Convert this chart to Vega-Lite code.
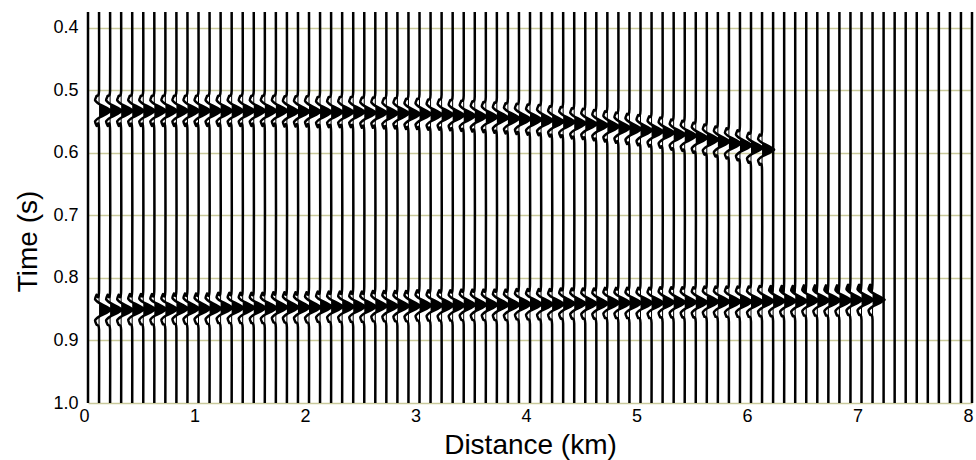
{
"$schema":"https://vega.github.io/schema/vega-lite/v6.json",
"width":884,"height":391,
"autosize":{"type":"none"},
"padding":{"left":88,"top":12,"right":4,"bottom":57},
"background":"white",
"config":{"view":{"stroke":null},"font":"Liberation Sans"},
"data":{"values":[
{"k":0,"t":0.375,"x":0},{"k":0,"t":1,"x":0},
{"k":0.1,"t":0.375,"x":0.1},{"k":0.1,"t":0.501,"x":0.1},{"k":0.1,"t":0.509,"x":0.078},{"k":0.1,"t":0.516,"x":0.064},{"k":0.1,"t":0.522,"x":0.1},{"k":0.1,"t":0.533,"x":0.21},{"k":0.1,"t":0.544,"x":0.1},{"k":0.1,"t":0.550,"x":0.064},{"k":0.1,"t":0.557,"x":0.078},{"k":0.1,"t":0.565,"x":0.1},{"k":0.1,"t":0.819,"x":0.1},{"k":0.1,"t":0.827,"x":0.078},{"k":0.1,"t":0.834,"x":0.064},{"k":0.1,"t":0.840,"x":0.1},{"k":0.1,"t":0.851,"x":0.21},{"k":0.1,"t":0.862,"x":0.1},{"k":0.1,"t":0.868,"x":0.064},{"k":0.1,"t":0.875,"x":0.078},{"k":0.1,"t":0.883,"x":0.1},{"k":0.1,"t":1,"x":0.1},
{"k":0.2,"t":0.375,"x":0.2},{"k":0.2,"t":0.501,"x":0.2},{"k":0.2,"t":0.509,"x":0.178},{"k":0.2,"t":0.516,"x":0.164},{"k":0.2,"t":0.522,"x":0.2},{"k":0.2,"t":0.533,"x":0.31},{"k":0.2,"t":0.544,"x":0.2},{"k":0.2,"t":0.550,"x":0.164},{"k":0.2,"t":0.557,"x":0.178},{"k":0.2,"t":0.565,"x":0.2},{"k":0.2,"t":0.819,"x":0.2},{"k":0.2,"t":0.827,"x":0.178},{"k":0.2,"t":0.834,"x":0.164},{"k":0.2,"t":0.840,"x":0.2},{"k":0.2,"t":0.851,"x":0.31},{"k":0.2,"t":0.862,"x":0.2},{"k":0.2,"t":0.868,"x":0.164},{"k":0.2,"t":0.875,"x":0.178},{"k":0.2,"t":0.883,"x":0.2},{"k":0.2,"t":1,"x":0.2},
{"k":0.3,"t":0.375,"x":0.3},{"k":0.3,"t":0.501,"x":0.3},{"k":0.3,"t":0.509,"x":0.278},{"k":0.3,"t":0.516,"x":0.264},{"k":0.3,"t":0.522,"x":0.3},{"k":0.3,"t":0.533,"x":0.41},{"k":0.3,"t":0.544,"x":0.3},{"k":0.3,"t":0.550,"x":0.264},{"k":0.3,"t":0.557,"x":0.278},{"k":0.3,"t":0.565,"x":0.3},{"k":0.3,"t":0.819,"x":0.3},{"k":0.3,"t":0.827,"x":0.278},{"k":0.3,"t":0.834,"x":0.264},{"k":0.3,"t":0.840,"x":0.3},{"k":0.3,"t":0.851,"x":0.41},{"k":0.3,"t":0.862,"x":0.3},{"k":0.3,"t":0.868,"x":0.264},{"k":0.3,"t":0.875,"x":0.278},{"k":0.3,"t":0.883,"x":0.3},{"k":0.3,"t":1,"x":0.3},
{"k":0.4,"t":0.375,"x":0.4},{"k":0.4,"t":0.501,"x":0.4},{"k":0.4,"t":0.509,"x":0.378},{"k":0.4,"t":0.516,"x":0.364},{"k":0.4,"t":0.522,"x":0.4},{"k":0.4,"t":0.533,"x":0.51},{"k":0.4,"t":0.544,"x":0.4},{"k":0.4,"t":0.550,"x":0.364},{"k":0.4,"t":0.557,"x":0.378},{"k":0.4,"t":0.565,"x":0.4},{"k":0.4,"t":0.818,"x":0.4},{"k":0.4,"t":0.826,"x":0.378},{"k":0.4,"t":0.833,"x":0.364},{"k":0.4,"t":0.839,"x":0.4},{"k":0.4,"t":0.850,"x":0.51},{"k":0.4,"t":0.861,"x":0.4},{"k":0.4,"t":0.867,"x":0.364},{"k":0.4,"t":0.874,"x":0.378},{"k":0.4,"t":0.882,"x":0.4},{"k":0.4,"t":1,"x":0.4},
{"k":0.5,"t":0.375,"x":0.5},{"k":0.5,"t":0.501,"x":0.5},{"k":0.5,"t":0.509,"x":0.478},{"k":0.5,"t":0.516,"x":0.464},{"k":0.5,"t":0.522,"x":0.5},{"k":0.5,"t":0.533,"x":0.61},{"k":0.5,"t":0.544,"x":0.5},{"k":0.5,"t":0.550,"x":0.464},{"k":0.5,"t":0.557,"x":0.478},{"k":0.5,"t":0.565,"x":0.5},{"k":0.5,"t":0.818,"x":0.5},{"k":0.5,"t":0.826,"x":0.478},{"k":0.5,"t":0.833,"x":0.464},{"k":0.5,"t":0.839,"x":0.5},{"k":0.5,"t":0.850,"x":0.61},{"k":0.5,"t":0.861,"x":0.5},{"k":0.5,"t":0.867,"x":0.464},{"k":0.5,"t":0.874,"x":0.478},{"k":0.5,"t":0.882,"x":0.5},{"k":0.5,"t":1,"x":0.5},
{"k":0.6,"t":0.375,"x":0.6},{"k":0.6,"t":0.501,"x":0.6},{"k":0.6,"t":0.509,"x":0.578},{"k":0.6,"t":0.516,"x":0.564},{"k":0.6,"t":0.522,"x":0.6},{"k":0.6,"t":0.533,"x":0.71},{"k":0.6,"t":0.544,"x":0.6},{"k":0.6,"t":0.550,"x":0.564},{"k":0.6,"t":0.557,"x":0.578},{"k":0.6,"t":0.565,"x":0.6},{"k":0.6,"t":0.818,"x":0.6},{"k":0.6,"t":0.826,"x":0.578},{"k":0.6,"t":0.833,"x":0.564},{"k":0.6,"t":0.839,"x":0.6},{"k":0.6,"t":0.850,"x":0.71},{"k":0.6,"t":0.861,"x":0.6},{"k":0.6,"t":0.867,"x":0.564},{"k":0.6,"t":0.874,"x":0.578},{"k":0.6,"t":0.882,"x":0.6},{"k":0.6,"t":1,"x":0.6},
{"k":0.7,"t":0.375,"x":0.7},{"k":0.7,"t":0.501,"x":0.7},{"k":0.7,"t":0.509,"x":0.678},{"k":0.7,"t":0.516,"x":0.664},{"k":0.7,"t":0.522,"x":0.7},{"k":0.7,"t":0.533,"x":0.81},{"k":0.7,"t":0.544,"x":0.7},{"k":0.7,"t":0.550,"x":0.664},{"k":0.7,"t":0.557,"x":0.678},{"k":0.7,"t":0.565,"x":0.7},{"k":0.7,"t":0.818,"x":0.7},{"k":0.7,"t":0.826,"x":0.678},{"k":0.7,"t":0.833,"x":0.664},{"k":0.7,"t":0.839,"x":0.7},{"k":0.7,"t":0.850,"x":0.81},{"k":0.7,"t":0.861,"x":0.7},{"k":0.7,"t":0.867,"x":0.664},{"k":0.7,"t":0.874,"x":0.678},{"k":0.7,"t":0.882,"x":0.7},{"k":0.7,"t":1,"x":0.7},
{"k":0.8,"t":0.375,"x":0.8},{"k":0.8,"t":0.501,"x":0.8},{"k":0.8,"t":0.509,"x":0.778},{"k":0.8,"t":0.516,"x":0.764},{"k":0.8,"t":0.522,"x":0.8},{"k":0.8,"t":0.533,"x":0.91},{"k":0.8,"t":0.544,"x":0.8},{"k":0.8,"t":0.550,"x":0.764},{"k":0.8,"t":0.557,"x":0.778},{"k":0.8,"t":0.565,"x":0.8},{"k":0.8,"t":0.817,"x":0.8},{"k":0.8,"t":0.825,"x":0.778},{"k":0.8,"t":0.832,"x":0.764},{"k":0.8,"t":0.838,"x":0.8},{"k":0.8,"t":0.849,"x":0.91},{"k":0.8,"t":0.860,"x":0.8},{"k":0.8,"t":0.866,"x":0.764},{"k":0.8,"t":0.873,"x":0.778},{"k":0.8,"t":0.881,"x":0.8},{"k":0.8,"t":1,"x":0.8},
{"k":0.9,"t":0.375,"x":0.9},{"k":0.9,"t":0.501,"x":0.9},{"k":0.9,"t":0.509,"x":0.878},{"k":0.9,"t":0.516,"x":0.864},{"k":0.9,"t":0.522,"x":0.9},{"k":0.9,"t":0.533,"x":1.01},{"k":0.9,"t":0.544,"x":0.9},{"k":0.9,"t":0.550,"x":0.864},{"k":0.9,"t":0.557,"x":0.878},{"k":0.9,"t":0.565,"x":0.9},{"k":0.9,"t":0.817,"x":0.9},{"k":0.9,"t":0.825,"x":0.878},{"k":0.9,"t":0.832,"x":0.864},{"k":0.9,"t":0.838,"x":0.9},{"k":0.9,"t":0.849,"x":1.01},{"k":0.9,"t":0.860,"x":0.9},{"k":0.9,"t":0.866,"x":0.864},{"k":0.9,"t":0.873,"x":0.878},{"k":0.9,"t":0.881,"x":0.9},{"k":0.9,"t":1,"x":0.9},
{"k":1.0,"t":0.375,"x":1.0},{"k":1.0,"t":0.501,"x":1.0},{"k":1.0,"t":0.509,"x":0.978},{"k":1.0,"t":0.516,"x":0.964},{"k":1.0,"t":0.522,"x":1.0},{"k":1.0,"t":0.533,"x":1.11},{"k":1.0,"t":0.544,"x":1.0},{"k":1.0,"t":0.550,"x":0.964},{"k":1.0,"t":0.557,"x":0.978},{"k":1.0,"t":0.565,"x":1.0},{"k":1.0,"t":0.817,"x":1.0},{"k":1.0,"t":0.825,"x":0.978},{"k":1.0,"t":0.832,"x":0.964},{"k":1.0,"t":0.838,"x":1.0},{"k":1.0,"t":0.849,"x":1.11},{"k":1.0,"t":0.860,"x":1.0},{"k":1.0,"t":0.866,"x":0.964},{"k":1.0,"t":0.873,"x":0.978},{"k":1.0,"t":0.881,"x":1.0},{"k":1.0,"t":1,"x":1.0},
{"k":1.1,"t":0.375,"x":1.1},{"k":1.1,"t":0.501,"x":1.1},{"k":1.1,"t":0.509,"x":1.078},{"k":1.1,"t":0.516,"x":1.064},{"k":1.1,"t":0.522,"x":1.1},{"k":1.1,"t":0.533,"x":1.21},{"k":1.1,"t":0.544,"x":1.1},{"k":1.1,"t":0.550,"x":1.064},{"k":1.1,"t":0.557,"x":1.078},{"k":1.1,"t":0.565,"x":1.1},{"k":1.1,"t":0.817,"x":1.1},{"k":1.1,"t":0.825,"x":1.078},{"k":1.1,"t":0.832,"x":1.064},{"k":1.1,"t":0.838,"x":1.1},{"k":1.1,"t":0.849,"x":1.21},{"k":1.1,"t":0.860,"x":1.1},{"k":1.1,"t":0.866,"x":1.064},{"k":1.1,"t":0.873,"x":1.078},{"k":1.1,"t":0.881,"x":1.1},{"k":1.1,"t":1,"x":1.1},
{"k":1.2,"t":0.375,"x":1.2},{"k":1.2,"t":0.501,"x":1.2},{"k":1.2,"t":0.509,"x":1.178},{"k":1.2,"t":0.516,"x":1.164},{"k":1.2,"t":0.522,"x":1.2},{"k":1.2,"t":0.533,"x":1.31},{"k":1.2,"t":0.544,"x":1.2},{"k":1.2,"t":0.550,"x":1.164},{"k":1.2,"t":0.557,"x":1.178},{"k":1.2,"t":0.565,"x":1.2},{"k":1.2,"t":0.816,"x":1.2},{"k":1.2,"t":0.824,"x":1.178},{"k":1.2,"t":0.831,"x":1.164},{"k":1.2,"t":0.837,"x":1.2},{"k":1.2,"t":0.848,"x":1.31},{"k":1.2,"t":0.859,"x":1.2},{"k":1.2,"t":0.865,"x":1.164},{"k":1.2,"t":0.872,"x":1.178},{"k":1.2,"t":0.880,"x":1.2},{"k":1.2,"t":1,"x":1.2},
{"k":1.3,"t":0.375,"x":1.3},{"k":1.3,"t":0.501,"x":1.3},{"k":1.3,"t":0.509,"x":1.278},{"k":1.3,"t":0.516,"x":1.264},{"k":1.3,"t":0.522,"x":1.3},{"k":1.3,"t":0.533,"x":1.41},{"k":1.3,"t":0.544,"x":1.3},{"k":1.3,"t":0.550,"x":1.264},{"k":1.3,"t":0.557,"x":1.278},{"k":1.3,"t":0.565,"x":1.3},{"k":1.3,"t":0.816,"x":1.3},{"k":1.3,"t":0.824,"x":1.278},{"k":1.3,"t":0.831,"x":1.264},{"k":1.3,"t":0.837,"x":1.3},{"k":1.3,"t":0.848,"x":1.41},{"k":1.3,"t":0.859,"x":1.3},{"k":1.3,"t":0.865,"x":1.264},{"k":1.3,"t":0.872,"x":1.278},{"k":1.3,"t":0.880,"x":1.3},{"k":1.3,"t":1,"x":1.3},
{"k":1.4,"t":0.375,"x":1.4},{"k":1.4,"t":0.501,"x":1.4},{"k":1.4,"t":0.509,"x":1.378},{"k":1.4,"t":0.516,"x":1.364},{"k":1.4,"t":0.522,"x":1.4},{"k":1.4,"t":0.533,"x":1.51},{"k":1.4,"t":0.544,"x":1.4},{"k":1.4,"t":0.550,"x":1.364},{"k":1.4,"t":0.557,"x":1.378},{"k":1.4,"t":0.565,"x":1.4},{"k":1.4,"t":0.816,"x":1.4},{"k":1.4,"t":0.824,"x":1.378},{"k":1.4,"t":0.831,"x":1.364},{"k":1.4,"t":0.837,"x":1.4},{"k":1.4,"t":0.848,"x":1.51},{"k":1.4,"t":0.859,"x":1.4},{"k":1.4,"t":0.865,"x":1.364},{"k":1.4,"t":0.872,"x":1.378},{"k":1.4,"t":0.880,"x":1.4},{"k":1.4,"t":1,"x":1.4},
{"k":1.5,"t":0.375,"x":1.5},{"k":1.5,"t":0.501,"x":1.5},{"k":1.5,"t":0.509,"x":1.478},{"k":1.5,"t":0.516,"x":1.464},{"k":1.5,"t":0.522,"x":1.5},{"k":1.5,"t":0.533,"x":1.61},{"k":1.5,"t":0.544,"x":1.5},{"k":1.5,"t":0.550,"x":1.464},{"k":1.5,"t":0.557,"x":1.478},{"k":1.5,"t":0.565,"x":1.5},{"k":1.5,"t":0.816,"x":1.5},{"k":1.5,"t":0.824,"x":1.478},{"k":1.5,"t":0.831,"x":1.464},{"k":1.5,"t":0.837,"x":1.5},{"k":1.5,"t":0.848,"x":1.61},{"k":1.5,"t":0.859,"x":1.5},{"k":1.5,"t":0.865,"x":1.464},{"k":1.5,"t":0.872,"x":1.478},{"k":1.5,"t":0.880,"x":1.5},{"k":1.5,"t":1,"x":1.5},
{"k":1.6,"t":0.375,"x":1.6},{"k":1.6,"t":0.501,"x":1.6},{"k":1.6,"t":0.509,"x":1.578},{"k":1.6,"t":0.516,"x":1.564},{"k":1.6,"t":0.522,"x":1.6},{"k":1.6,"t":0.533,"x":1.71},{"k":1.6,"t":0.544,"x":1.6},{"k":1.6,"t":0.550,"x":1.564},{"k":1.6,"t":0.557,"x":1.578},{"k":1.6,"t":0.565,"x":1.6},{"k":1.6,"t":0.816,"x":1.6},{"k":1.6,"t":0.824,"x":1.578},{"k":1.6,"t":0.831,"x":1.564},{"k":1.6,"t":0.837,"x":1.6},{"k":1.6,"t":0.848,"x":1.71},{"k":1.6,"t":0.859,"x":1.6},{"k":1.6,"t":0.865,"x":1.564},{"k":1.6,"t":0.872,"x":1.578},{"k":1.6,"t":0.880,"x":1.6},{"k":1.6,"t":1,"x":1.6},
{"k":1.7,"t":0.375,"x":1.7},{"k":1.7,"t":0.501,"x":1.7},{"k":1.7,"t":0.509,"x":1.678},{"k":1.7,"t":0.516,"x":1.664},{"k":1.7,"t":0.522,"x":1.7},{"k":1.7,"t":0.533,"x":1.81},{"k":1.7,"t":0.544,"x":1.7},{"k":1.7,"t":0.550,"x":1.664},{"k":1.7,"t":0.557,"x":1.678},{"k":1.7,"t":0.565,"x":1.7},{"k":1.7,"t":0.815,"x":1.7},{"k":1.7,"t":0.823,"x":1.678},{"k":1.7,"t":0.830,"x":1.664},{"k":1.7,"t":0.836,"x":1.7},{"k":1.7,"t":0.847,"x":1.81},{"k":1.7,"t":0.858,"x":1.7},{"k":1.7,"t":0.864,"x":1.664},{"k":1.7,"t":0.871,"x":1.678},{"k":1.7,"t":0.879,"x":1.7},{"k":1.7,"t":1,"x":1.7},
{"k":1.8,"t":0.375,"x":1.8},{"k":1.8,"t":0.502,"x":1.8},{"k":1.8,"t":0.510,"x":1.778},{"k":1.8,"t":0.517,"x":1.764},{"k":1.8,"t":0.523,"x":1.8},{"k":1.8,"t":0.534,"x":1.91},{"k":1.8,"t":0.545,"x":1.8},{"k":1.8,"t":0.551,"x":1.764},{"k":1.8,"t":0.558,"x":1.778},{"k":1.8,"t":0.566,"x":1.8},{"k":1.8,"t":0.815,"x":1.8},{"k":1.8,"t":0.823,"x":1.778},{"k":1.8,"t":0.830,"x":1.764},{"k":1.8,"t":0.836,"x":1.8},{"k":1.8,"t":0.847,"x":1.91},{"k":1.8,"t":0.858,"x":1.8},{"k":1.8,"t":0.864,"x":1.764},{"k":1.8,"t":0.871,"x":1.778},{"k":1.8,"t":0.879,"x":1.8},{"k":1.8,"t":1,"x":1.8},
{"k":1.9,"t":0.375,"x":1.9},{"k":1.9,"t":0.502,"x":1.9},{"k":1.9,"t":0.510,"x":1.878},{"k":1.9,"t":0.517,"x":1.864},{"k":1.9,"t":0.523,"x":1.9},{"k":1.9,"t":0.534,"x":2.01},{"k":1.9,"t":0.545,"x":1.9},{"k":1.9,"t":0.551,"x":1.864},{"k":1.9,"t":0.558,"x":1.878},{"k":1.9,"t":0.566,"x":1.9},{"k":1.9,"t":0.815,"x":1.9},{"k":1.9,"t":0.823,"x":1.878},{"k":1.9,"t":0.830,"x":1.864},{"k":1.9,"t":0.836,"x":1.9},{"k":1.9,"t":0.847,"x":2.01},{"k":1.9,"t":0.858,"x":1.9},{"k":1.9,"t":0.864,"x":1.864},{"k":1.9,"t":0.871,"x":1.878},{"k":1.9,"t":0.879,"x":1.9},{"k":1.9,"t":1,"x":1.9},
{"k":2.0,"t":0.375,"x":2.0},{"k":2.0,"t":0.502,"x":2.0},{"k":2.0,"t":0.510,"x":1.978},{"k":2.0,"t":0.517,"x":1.964},{"k":2.0,"t":0.523,"x":2.0},{"k":2.0,"t":0.534,"x":2.11},{"k":2.0,"t":0.545,"x":2.0},{"k":2.0,"t":0.551,"x":1.964},{"k":2.0,"t":0.558,"x":1.978},{"k":2.0,"t":0.566,"x":2.0},{"k":2.0,"t":0.815,"x":2.0},{"k":2.0,"t":0.823,"x":1.978},{"k":2.0,"t":0.830,"x":1.964},{"k":2.0,"t":0.836,"x":2.0},{"k":2.0,"t":0.847,"x":2.11},{"k":2.0,"t":0.858,"x":2.0},{"k":2.0,"t":0.864,"x":1.964},{"k":2.0,"t":0.871,"x":1.978},{"k":2.0,"t":0.879,"x":2.0},{"k":2.0,"t":1,"x":2.0},
{"k":2.1,"t":0.375,"x":2.1},{"k":2.1,"t":0.503,"x":2.1},{"k":2.1,"t":0.511,"x":2.078},{"k":2.1,"t":0.518,"x":2.064},{"k":2.1,"t":0.524,"x":2.1},{"k":2.1,"t":0.535,"x":2.21},{"k":2.1,"t":0.546,"x":2.1},{"k":2.1,"t":0.552,"x":2.064},{"k":2.1,"t":0.559,"x":2.078},{"k":2.1,"t":0.567,"x":2.1},{"k":2.1,"t":0.814,"x":2.1},{"k":2.1,"t":0.822,"x":2.078},{"k":2.1,"t":0.829,"x":2.064},{"k":2.1,"t":0.835,"x":2.1},{"k":2.1,"t":0.846,"x":2.21},{"k":2.1,"t":0.857,"x":2.1},{"k":2.1,"t":0.863,"x":2.064},{"k":2.1,"t":0.870,"x":2.078},{"k":2.1,"t":0.878,"x":2.1},{"k":2.1,"t":1,"x":2.1},
{"k":2.2,"t":0.375,"x":2.2},{"k":2.2,"t":0.503,"x":2.2},{"k":2.2,"t":0.511,"x":2.178},{"k":2.2,"t":0.518,"x":2.164},{"k":2.2,"t":0.524,"x":2.2},{"k":2.2,"t":0.535,"x":2.31},{"k":2.2,"t":0.546,"x":2.2},{"k":2.2,"t":0.552,"x":2.164},{"k":2.2,"t":0.559,"x":2.178},{"k":2.2,"t":0.567,"x":2.2},{"k":2.2,"t":0.814,"x":2.2},{"k":2.2,"t":0.822,"x":2.178},{"k":2.2,"t":0.829,"x":2.164},{"k":2.2,"t":0.835,"x":2.2},{"k":2.2,"t":0.846,"x":2.31},{"k":2.2,"t":0.857,"x":2.2},{"k":2.2,"t":0.863,"x":2.164},{"k":2.2,"t":0.870,"x":2.178},{"k":2.2,"t":0.878,"x":2.2},{"k":2.2,"t":1,"x":2.2},
{"k":2.3,"t":0.375,"x":2.3},{"k":2.3,"t":0.503,"x":2.3},{"k":2.3,"t":0.511,"x":2.278},{"k":2.3,"t":0.518,"x":2.264},{"k":2.3,"t":0.524,"x":2.3},{"k":2.3,"t":0.535,"x":2.41},{"k":2.3,"t":0.546,"x":2.3},{"k":2.3,"t":0.552,"x":2.264},{"k":2.3,"t":0.559,"x":2.278},{"k":2.3,"t":0.567,"x":2.3},{"k":2.3,"t":0.814,"x":2.3},{"k":2.3,"t":0.822,"x":2.278},{"k":2.3,"t":0.829,"x":2.264},{"k":2.3,"t":0.835,"x":2.3},{"k":2.3,"t":0.846,"x":2.41},{"k":2.3,"t":0.857,"x":2.3},{"k":2.3,"t":0.863,"x":2.264},{"k":2.3,"t":0.870,"x":2.278},{"k":2.3,"t":0.878,"x":2.3},{"k":2.3,"t":1,"x":2.3},
{"k":2.4,"t":0.375,"x":2.4},{"k":2.4,"t":0.503,"x":2.4},{"k":2.4,"t":0.511,"x":2.378},{"k":2.4,"t":0.518,"x":2.364},{"k":2.4,"t":0.524,"x":2.4},{"k":2.4,"t":0.535,"x":2.51},{"k":2.4,"t":0.546,"x":2.4},{"k":2.4,"t":0.552,"x":2.364},{"k":2.4,"t":0.559,"x":2.378},{"k":2.4,"t":0.567,"x":2.4},{"k":2.4,"t":0.814,"x":2.4},{"k":2.4,"t":0.822,"x":2.378},{"k":2.4,"t":0.829,"x":2.364},{"k":2.4,"t":0.835,"x":2.4},{"k":2.4,"t":0.846,"x":2.51},{"k":2.4,"t":0.857,"x":2.4},{"k":2.4,"t":0.863,"x":2.364},{"k":2.4,"t":0.870,"x":2.378},{"k":2.4,"t":0.878,"x":2.4},{"k":2.4,"t":1,"x":2.4},
{"k":2.5,"t":0.375,"x":2.5},{"k":2.5,"t":0.504,"x":2.5},{"k":2.5,"t":0.512,"x":2.478},{"k":2.5,"t":0.519,"x":2.464},{"k":2.5,"t":0.525,"x":2.5},{"k":2.5,"t":0.536,"x":2.61},{"k":2.5,"t":0.547,"x":2.5},{"k":2.5,"t":0.553,"x":2.464},{"k":2.5,"t":0.560,"x":2.478},{"k":2.5,"t":0.568,"x":2.5},{"k":2.5,"t":0.814,"x":2.5},{"k":2.5,"t":0.822,"x":2.478},{"k":2.5,"t":0.829,"x":2.464},{"k":2.5,"t":0.835,"x":2.5},{"k":2.5,"t":0.846,"x":2.61},{"k":2.5,"t":0.857,"x":2.5},{"k":2.5,"t":0.863,"x":2.464},{"k":2.5,"t":0.870,"x":2.478},{"k":2.5,"t":0.878,"x":2.5},{"k":2.5,"t":1,"x":2.5},
{"k":2.6,"t":0.375,"x":2.6},{"k":2.6,"t":0.504,"x":2.6},{"k":2.6,"t":0.512,"x":2.578},{"k":2.6,"t":0.519,"x":2.564},{"k":2.6,"t":0.525,"x":2.6},{"k":2.6,"t":0.536,"x":2.71},{"k":2.6,"t":0.547,"x":2.6},{"k":2.6,"t":0.553,"x":2.564},{"k":2.6,"t":0.560,"x":2.578},{"k":2.6,"t":0.568,"x":2.6},{"k":2.6,"t":0.813,"x":2.6},{"k":2.6,"t":0.821,"x":2.578},{"k":2.6,"t":0.828,"x":2.564},{"k":2.6,"t":0.834,"x":2.6},{"k":2.6,"t":0.845,"x":2.71},{"k":2.6,"t":0.856,"x":2.6},{"k":2.6,"t":0.862,"x":2.564},{"k":2.6,"t":0.869,"x":2.578},{"k":2.6,"t":0.877,"x":2.6},{"k":2.6,"t":1,"x":2.6},
{"k":2.7,"t":0.375,"x":2.7},{"k":2.7,"t":0.505,"x":2.7},{"k":2.7,"t":0.513,"x":2.678},{"k":2.7,"t":0.520,"x":2.664},{"k":2.7,"t":0.526,"x":2.7},{"k":2.7,"t":0.537,"x":2.81},{"k":2.7,"t":0.548,"x":2.7},{"k":2.7,"t":0.554,"x":2.664},{"k":2.7,"t":0.561,"x":2.678},{"k":2.7,"t":0.569,"x":2.7},{"k":2.7,"t":0.813,"x":2.7},{"k":2.7,"t":0.821,"x":2.678},{"k":2.7,"t":0.828,"x":2.664},{"k":2.7,"t":0.834,"x":2.7},{"k":2.7,"t":0.845,"x":2.81},{"k":2.7,"t":0.856,"x":2.7},{"k":2.7,"t":0.862,"x":2.664},{"k":2.7,"t":0.869,"x":2.678},{"k":2.7,"t":0.877,"x":2.7},{"k":2.7,"t":1,"x":2.7},
{"k":2.8,"t":0.375,"x":2.8},{"k":2.8,"t":0.505,"x":2.8},{"k":2.8,"t":0.513,"x":2.778},{"k":2.8,"t":0.520,"x":2.764},{"k":2.8,"t":0.526,"x":2.8},{"k":2.8,"t":0.537,"x":2.91},{"k":2.8,"t":0.548,"x":2.8},{"k":2.8,"t":0.554,"x":2.764},{"k":2.8,"t":0.561,"x":2.778},{"k":2.8,"t":0.569,"x":2.8},{"k":2.8,"t":0.813,"x":2.8},{"k":2.8,"t":0.821,"x":2.778},{"k":2.8,"t":0.828,"x":2.764},{"k":2.8,"t":0.834,"x":2.8},{"k":2.8,"t":0.845,"x":2.91},{"k":2.8,"t":0.856,"x":2.8},{"k":2.8,"t":0.862,"x":2.764},{"k":2.8,"t":0.869,"x":2.778},{"k":2.8,"t":0.877,"x":2.8},{"k":2.8,"t":1,"x":2.8},
{"k":2.9,"t":0.375,"x":2.9},{"k":2.9,"t":0.506,"x":2.9},{"k":2.9,"t":0.514,"x":2.878},{"k":2.9,"t":0.521,"x":2.864},{"k":2.9,"t":0.527,"x":2.9},{"k":2.9,"t":0.538,"x":3.01},{"k":2.9,"t":0.549,"x":2.9},{"k":2.9,"t":0.555,"x":2.864},{"k":2.9,"t":0.562,"x":2.878},{"k":2.9,"t":0.570,"x":2.9},{"k":2.9,"t":0.813,"x":2.9},{"k":2.9,"t":0.821,"x":2.878},{"k":2.9,"t":0.828,"x":2.864},{"k":2.9,"t":0.834,"x":2.9},{"k":2.9,"t":0.845,"x":3.01},{"k":2.9,"t":0.856,"x":2.9},{"k":2.9,"t":0.862,"x":2.864},{"k":2.9,"t":0.869,"x":2.878},{"k":2.9,"t":0.877,"x":2.9},{"k":2.9,"t":1,"x":2.9},
{"k":3.0,"t":0.375,"x":3.0},{"k":3.0,"t":0.506,"x":3.0},{"k":3.0,"t":0.514,"x":2.978},{"k":3.0,"t":0.521,"x":2.964},{"k":3.0,"t":0.527,"x":3.0},{"k":3.0,"t":0.538,"x":3.11},{"k":3.0,"t":0.549,"x":3.0},{"k":3.0,"t":0.555,"x":2.964},{"k":3.0,"t":0.562,"x":2.978},{"k":3.0,"t":0.570,"x":3.0},{"k":3.0,"t":0.812,"x":3.0},{"k":3.0,"t":0.820,"x":2.978},{"k":3.0,"t":0.827,"x":2.964},{"k":3.0,"t":0.833,"x":3.0},{"k":3.0,"t":0.844,"x":3.11},{"k":3.0,"t":0.855,"x":3.0},{"k":3.0,"t":0.861,"x":2.964},{"k":3.0,"t":0.868,"x":2.978},{"k":3.0,"t":0.876,"x":3.0},{"k":3.0,"t":1,"x":3.0},
{"k":3.1,"t":0.375,"x":3.1},{"k":3.1,"t":0.507,"x":3.1},{"k":3.1,"t":0.515,"x":3.078},{"k":3.1,"t":0.522,"x":3.064},{"k":3.1,"t":0.528,"x":3.1},{"k":3.1,"t":0.539,"x":3.21},{"k":3.1,"t":0.550,"x":3.1},{"k":3.1,"t":0.556,"x":3.064},{"k":3.1,"t":0.563,"x":3.078},{"k":3.1,"t":0.571,"x":3.1},{"k":3.1,"t":0.812,"x":3.1},{"k":3.1,"t":0.820,"x":3.078},{"k":3.1,"t":0.827,"x":3.064},{"k":3.1,"t":0.833,"x":3.1},{"k":3.1,"t":0.844,"x":3.21},{"k":3.1,"t":0.855,"x":3.1},{"k":3.1,"t":0.861,"x":3.064},{"k":3.1,"t":0.868,"x":3.078},{"k":3.1,"t":0.876,"x":3.1},{"k":3.1,"t":1,"x":3.1},
{"k":3.2,"t":0.375,"x":3.2},{"k":3.2,"t":0.507,"x":3.2},{"k":3.2,"t":0.515,"x":3.178},{"k":3.2,"t":0.522,"x":3.164},{"k":3.2,"t":0.528,"x":3.2},{"k":3.2,"t":0.539,"x":3.31},{"k":3.2,"t":0.550,"x":3.2},{"k":3.2,"t":0.556,"x":3.164},{"k":3.2,"t":0.563,"x":3.178},{"k":3.2,"t":0.571,"x":3.2},{"k":3.2,"t":0.812,"x":3.2},{"k":3.2,"t":0.820,"x":3.178},{"k":3.2,"t":0.827,"x":3.164},{"k":3.2,"t":0.833,"x":3.2},{"k":3.2,"t":0.844,"x":3.31},{"k":3.2,"t":0.855,"x":3.2},{"k":3.2,"t":0.861,"x":3.164},{"k":3.2,"t":0.868,"x":3.178},{"k":3.2,"t":0.876,"x":3.2},{"k":3.2,"t":1,"x":3.2},
{"k":3.3,"t":0.375,"x":3.3},{"k":3.3,"t":0.508,"x":3.3},{"k":3.3,"t":0.516,"x":3.278},{"k":3.3,"t":0.523,"x":3.264},{"k":3.3,"t":0.529,"x":3.3},{"k":3.3,"t":0.540,"x":3.41},{"k":3.3,"t":0.551,"x":3.3},{"k":3.3,"t":0.557,"x":3.264},{"k":3.3,"t":0.564,"x":3.278},{"k":3.3,"t":0.572,"x":3.3},{"k":3.3,"t":0.812,"x":3.3},{"k":3.3,"t":0.820,"x":3.278},{"k":3.3,"t":0.827,"x":3.264},{"k":3.3,"t":0.833,"x":3.3},{"k":3.3,"t":0.844,"x":3.41},{"k":3.3,"t":0.855,"x":3.3},{"k":3.3,"t":0.861,"x":3.264},{"k":3.3,"t":0.868,"x":3.278},{"k":3.3,"t":0.876,"x":3.3},{"k":3.3,"t":1,"x":3.3},
{"k":3.4,"t":0.375,"x":3.4},{"k":3.4,"t":0.509,"x":3.4},{"k":3.4,"t":0.517,"x":3.378},{"k":3.4,"t":0.524,"x":3.364},{"k":3.4,"t":0.530,"x":3.4},{"k":3.4,"t":0.541,"x":3.51},{"k":3.4,"t":0.552,"x":3.4},{"k":3.4,"t":0.558,"x":3.364},{"k":3.4,"t":0.565,"x":3.378},{"k":3.4,"t":0.573,"x":3.4},{"k":3.4,"t":0.811,"x":3.4},{"k":3.4,"t":0.819,"x":3.378},{"k":3.4,"t":0.826,"x":3.364},{"k":3.4,"t":0.832,"x":3.4},{"k":3.4,"t":0.843,"x":3.51},{"k":3.4,"t":0.854,"x":3.4},{"k":3.4,"t":0.860,"x":3.364},{"k":3.4,"t":0.867,"x":3.378},{"k":3.4,"t":0.875,"x":3.4},{"k":3.4,"t":1,"x":3.4},
{"k":3.5,"t":0.375,"x":3.5},{"k":3.5,"t":0.510,"x":3.5},{"k":3.5,"t":0.518,"x":3.478},{"k":3.5,"t":0.525,"x":3.464},{"k":3.5,"t":0.531,"x":3.5},{"k":3.5,"t":0.542,"x":3.61},{"k":3.5,"t":0.553,"x":3.5},{"k":3.5,"t":0.559,"x":3.464},{"k":3.5,"t":0.566,"x":3.478},{"k":3.5,"t":0.574,"x":3.5},{"k":3.5,"t":0.811,"x":3.5},{"k":3.5,"t":0.819,"x":3.478},{"k":3.5,"t":0.826,"x":3.464},{"k":3.5,"t":0.832,"x":3.5},{"k":3.5,"t":0.843,"x":3.61},{"k":3.5,"t":0.854,"x":3.5},{"k":3.5,"t":0.860,"x":3.464},{"k":3.5,"t":0.867,"x":3.478},{"k":3.5,"t":0.875,"x":3.5},{"k":3.5,"t":1,"x":3.5},
{"k":3.6,"t":0.375,"x":3.6},{"k":3.6,"t":0.511,"x":3.6},{"k":3.6,"t":0.519,"x":3.578},{"k":3.6,"t":0.526,"x":3.564},{"k":3.6,"t":0.532,"x":3.6},{"k":3.6,"t":0.543,"x":3.71},{"k":3.6,"t":0.554,"x":3.6},{"k":3.6,"t":0.560,"x":3.564},{"k":3.6,"t":0.567,"x":3.578},{"k":3.6,"t":0.575,"x":3.6},{"k":3.6,"t":0.811,"x":3.6},{"k":3.6,"t":0.819,"x":3.578},{"k":3.6,"t":0.826,"x":3.564},{"k":3.6,"t":0.832,"x":3.6},{"k":3.6,"t":0.843,"x":3.71},{"k":3.6,"t":0.854,"x":3.6},{"k":3.6,"t":0.860,"x":3.564},{"k":3.6,"t":0.867,"x":3.578},{"k":3.6,"t":0.875,"x":3.6},{"k":3.6,"t":1,"x":3.6},
{"k":3.7,"t":0.375,"x":3.7},{"k":3.7,"t":0.512,"x":3.7},{"k":3.7,"t":0.520,"x":3.678},{"k":3.7,"t":0.527,"x":3.664},{"k":3.7,"t":0.533,"x":3.7},{"k":3.7,"t":0.544,"x":3.81},{"k":3.7,"t":0.555,"x":3.7},{"k":3.7,"t":0.561,"x":3.664},{"k":3.7,"t":0.568,"x":3.678},{"k":3.7,"t":0.576,"x":3.7},{"k":3.7,"t":0.811,"x":3.7},{"k":3.7,"t":0.819,"x":3.678},{"k":3.7,"t":0.826,"x":3.664},{"k":3.7,"t":0.832,"x":3.7},{"k":3.7,"t":0.843,"x":3.81},{"k":3.7,"t":0.854,"x":3.7},{"k":3.7,"t":0.860,"x":3.664},{"k":3.7,"t":0.867,"x":3.678},{"k":3.7,"t":0.875,"x":3.7},{"k":3.7,"t":1,"x":3.7},
{"k":3.8,"t":0.375,"x":3.8},{"k":3.8,"t":0.513,"x":3.8},{"k":3.8,"t":0.521,"x":3.778},{"k":3.8,"t":0.528,"x":3.764},{"k":3.8,"t":0.534,"x":3.8},{"k":3.8,"t":0.545,"x":3.91},{"k":3.8,"t":0.556,"x":3.8},{"k":3.8,"t":0.562,"x":3.764},{"k":3.8,"t":0.569,"x":3.778},{"k":3.8,"t":0.577,"x":3.8},{"k":3.8,"t":0.811,"x":3.8},{"k":3.8,"t":0.819,"x":3.778},{"k":3.8,"t":0.826,"x":3.764},{"k":3.8,"t":0.832,"x":3.8},{"k":3.8,"t":0.843,"x":3.91},{"k":3.8,"t":0.854,"x":3.8},{"k":3.8,"t":0.860,"x":3.764},{"k":3.8,"t":0.867,"x":3.778},{"k":3.8,"t":0.875,"x":3.8},{"k":3.8,"t":1,"x":3.8},
{"k":3.9,"t":0.375,"x":3.9},{"k":3.9,"t":0.514,"x":3.9},{"k":3.9,"t":0.522,"x":3.878},{"k":3.9,"t":0.529,"x":3.864},{"k":3.9,"t":0.535,"x":3.9},{"k":3.9,"t":0.546,"x":4.01},{"k":3.9,"t":0.557,"x":3.9},{"k":3.9,"t":0.563,"x":3.864},{"k":3.9,"t":0.570,"x":3.878},{"k":3.9,"t":0.578,"x":3.9},{"k":3.9,"t":0.810,"x":3.9},{"k":3.9,"t":0.818,"x":3.878},{"k":3.9,"t":0.825,"x":3.864},{"k":3.9,"t":0.831,"x":3.9},{"k":3.9,"t":0.842,"x":4.01},{"k":3.9,"t":0.853,"x":3.9},{"k":3.9,"t":0.859,"x":3.864},{"k":3.9,"t":0.866,"x":3.878},{"k":3.9,"t":0.874,"x":3.9},{"k":3.9,"t":1,"x":3.9},
{"k":4.0,"t":0.375,"x":4.0},{"k":4.0,"t":0.515,"x":4.0},{"k":4.0,"t":0.523,"x":3.978},{"k":4.0,"t":0.530,"x":3.964},{"k":4.0,"t":0.536,"x":4.0},{"k":4.0,"t":0.547,"x":4.11},{"k":4.0,"t":0.558,"x":4.0},{"k":4.0,"t":0.564,"x":3.964},{"k":4.0,"t":0.571,"x":3.978},{"k":4.0,"t":0.579,"x":4.0},{"k":4.0,"t":0.810,"x":4.0},{"k":4.0,"t":0.818,"x":3.978},{"k":4.0,"t":0.825,"x":3.964},{"k":4.0,"t":0.831,"x":4.0},{"k":4.0,"t":0.842,"x":4.11},{"k":4.0,"t":0.853,"x":4.0},{"k":4.0,"t":0.859,"x":3.964},{"k":4.0,"t":0.866,"x":3.978},{"k":4.0,"t":0.874,"x":4.0},{"k":4.0,"t":1,"x":4.0},
{"k":4.1,"t":0.375,"x":4.1},{"k":4.1,"t":0.516,"x":4.1},{"k":4.1,"t":0.524,"x":4.078},{"k":4.1,"t":0.531,"x":4.064},{"k":4.1,"t":0.537,"x":4.1},{"k":4.1,"t":0.548,"x":4.21},{"k":4.1,"t":0.559,"x":4.1},{"k":4.1,"t":0.565,"x":4.064},{"k":4.1,"t":0.572,"x":4.078},{"k":4.1,"t":0.580,"x":4.1},{"k":4.1,"t":0.810,"x":4.1},{"k":4.1,"t":0.818,"x":4.078},{"k":4.1,"t":0.825,"x":4.064},{"k":4.1,"t":0.831,"x":4.1},{"k":4.1,"t":0.842,"x":4.21},{"k":4.1,"t":0.853,"x":4.1},{"k":4.1,"t":0.859,"x":4.064},{"k":4.1,"t":0.866,"x":4.078},{"k":4.1,"t":0.874,"x":4.1},{"k":4.1,"t":1,"x":4.1},
{"k":4.2,"t":0.375,"x":4.2},{"k":4.2,"t":0.518,"x":4.2},{"k":4.2,"t":0.526,"x":4.178},{"k":4.2,"t":0.533,"x":4.164},{"k":4.2,"t":0.539,"x":4.2},{"k":4.2,"t":0.550,"x":4.31},{"k":4.2,"t":0.561,"x":4.2},{"k":4.2,"t":0.567,"x":4.164},{"k":4.2,"t":0.574,"x":4.178},{"k":4.2,"t":0.582,"x":4.2},{"k":4.2,"t":0.810,"x":4.2},{"k":4.2,"t":0.818,"x":4.178},{"k":4.2,"t":0.825,"x":4.164},{"k":4.2,"t":0.831,"x":4.2},{"k":4.2,"t":0.842,"x":4.31},{"k":4.2,"t":0.853,"x":4.2},{"k":4.2,"t":0.859,"x":4.164},{"k":4.2,"t":0.866,"x":4.178},{"k":4.2,"t":0.874,"x":4.2},{"k":4.2,"t":1,"x":4.2},
{"k":4.3,"t":0.375,"x":4.3},{"k":4.3,"t":0.519,"x":4.3},{"k":4.3,"t":0.527,"x":4.278},{"k":4.3,"t":0.534,"x":4.264},{"k":4.3,"t":0.540,"x":4.3},{"k":4.3,"t":0.551,"x":4.41},{"k":4.3,"t":0.562,"x":4.3},{"k":4.3,"t":0.568,"x":4.264},{"k":4.3,"t":0.575,"x":4.278},{"k":4.3,"t":0.583,"x":4.3},{"k":4.3,"t":0.809,"x":4.3},{"k":4.3,"t":0.817,"x":4.278},{"k":4.3,"t":0.824,"x":4.264},{"k":4.3,"t":0.830,"x":4.3},{"k":4.3,"t":0.841,"x":4.41},{"k":4.3,"t":0.852,"x":4.3},{"k":4.3,"t":0.858,"x":4.264},{"k":4.3,"t":0.865,"x":4.278},{"k":4.3,"t":0.873,"x":4.3},{"k":4.3,"t":1,"x":4.3},
{"k":4.4,"t":0.375,"x":4.4},{"k":4.4,"t":0.521,"x":4.4},{"k":4.4,"t":0.529,"x":4.378},{"k":4.4,"t":0.536,"x":4.364},{"k":4.4,"t":0.542,"x":4.4},{"k":4.4,"t":0.553,"x":4.51},{"k":4.4,"t":0.564,"x":4.4},{"k":4.4,"t":0.570,"x":4.364},{"k":4.4,"t":0.577,"x":4.378},{"k":4.4,"t":0.585,"x":4.4},{"k":4.4,"t":0.809,"x":4.4},{"k":4.4,"t":0.817,"x":4.378},{"k":4.4,"t":0.824,"x":4.364},{"k":4.4,"t":0.830,"x":4.4},{"k":4.4,"t":0.841,"x":4.51},{"k":4.4,"t":0.852,"x":4.4},{"k":4.4,"t":0.858,"x":4.364},{"k":4.4,"t":0.865,"x":4.378},{"k":4.4,"t":0.873,"x":4.4},{"k":4.4,"t":1,"x":4.4},
{"k":4.5,"t":0.375,"x":4.5},{"k":4.5,"t":0.522,"x":4.5},{"k":4.5,"t":0.530,"x":4.478},{"k":4.5,"t":0.537,"x":4.464},{"k":4.5,"t":0.543,"x":4.5},{"k":4.5,"t":0.554,"x":4.61},{"k":4.5,"t":0.565,"x":4.5},{"k":4.5,"t":0.571,"x":4.464},{"k":4.5,"t":0.578,"x":4.478},{"k":4.5,"t":0.586,"x":4.5},{"k":4.5,"t":0.809,"x":4.5},{"k":4.5,"t":0.817,"x":4.478},{"k":4.5,"t":0.824,"x":4.464},{"k":4.5,"t":0.830,"x":4.5},{"k":4.5,"t":0.841,"x":4.61},{"k":4.5,"t":0.852,"x":4.5},{"k":4.5,"t":0.858,"x":4.464},{"k":4.5,"t":0.865,"x":4.478},{"k":4.5,"t":0.873,"x":4.5},{"k":4.5,"t":1,"x":4.5},
{"k":4.6,"t":0.375,"x":4.6},{"k":4.6,"t":0.524,"x":4.6},{"k":4.6,"t":0.532,"x":4.578},{"k":4.6,"t":0.539,"x":4.564},{"k":4.6,"t":0.545,"x":4.6},{"k":4.6,"t":0.556,"x":4.71},{"k":4.6,"t":0.567,"x":4.6},{"k":4.6,"t":0.573,"x":4.564},{"k":4.6,"t":0.580,"x":4.578},{"k":4.6,"t":0.588,"x":4.6},{"k":4.6,"t":0.809,"x":4.6},{"k":4.6,"t":0.817,"x":4.578},{"k":4.6,"t":0.824,"x":4.564},{"k":4.6,"t":0.830,"x":4.6},{"k":4.6,"t":0.841,"x":4.71},{"k":4.6,"t":0.852,"x":4.6},{"k":4.6,"t":0.858,"x":4.564},{"k":4.6,"t":0.865,"x":4.578},{"k":4.6,"t":0.873,"x":4.6},{"k":4.6,"t":1,"x":4.6},
{"k":4.7,"t":0.375,"x":4.7},{"k":4.7,"t":0.526,"x":4.7},{"k":4.7,"t":0.534,"x":4.678},{"k":4.7,"t":0.541,"x":4.664},{"k":4.7,"t":0.547,"x":4.7},{"k":4.7,"t":0.558,"x":4.81},{"k":4.7,"t":0.569,"x":4.7},{"k":4.7,"t":0.575,"x":4.664},{"k":4.7,"t":0.582,"x":4.678},{"k":4.7,"t":0.590,"x":4.7},{"k":4.7,"t":0.808,"x":4.7},{"k":4.7,"t":0.816,"x":4.678},{"k":4.7,"t":0.823,"x":4.664},{"k":4.7,"t":0.829,"x":4.7},{"k":4.7,"t":0.840,"x":4.81},{"k":4.7,"t":0.851,"x":4.7},{"k":4.7,"t":0.857,"x":4.664},{"k":4.7,"t":0.864,"x":4.678},{"k":4.7,"t":0.872,"x":4.7},{"k":4.7,"t":1,"x":4.7},
{"k":4.8,"t":0.375,"x":4.8},{"k":4.8,"t":0.528,"x":4.8},{"k":4.8,"t":0.536,"x":4.778},{"k":4.8,"t":0.543,"x":4.764},{"k":4.8,"t":0.549,"x":4.8},{"k":4.8,"t":0.560,"x":4.91},{"k":4.8,"t":0.571,"x":4.8},{"k":4.8,"t":0.577,"x":4.764},{"k":4.8,"t":0.584,"x":4.778},{"k":4.8,"t":0.592,"x":4.8},{"k":4.8,"t":0.808,"x":4.8},{"k":4.8,"t":0.816,"x":4.778},{"k":4.8,"t":0.823,"x":4.764},{"k":4.8,"t":0.829,"x":4.8},{"k":4.8,"t":0.840,"x":4.91},{"k":4.8,"t":0.851,"x":4.8},{"k":4.8,"t":0.857,"x":4.764},{"k":4.8,"t":0.864,"x":4.778},{"k":4.8,"t":0.872,"x":4.8},{"k":4.8,"t":1,"x":4.8},
{"k":4.9,"t":0.375,"x":4.9},{"k":4.9,"t":0.530,"x":4.9},{"k":4.9,"t":0.538,"x":4.878},{"k":4.9,"t":0.545,"x":4.864},{"k":4.9,"t":0.551,"x":4.9},{"k":4.9,"t":0.562,"x":5.01},{"k":4.9,"t":0.573,"x":4.9},{"k":4.9,"t":0.579,"x":4.864},{"k":4.9,"t":0.586,"x":4.878},{"k":4.9,"t":0.594,"x":4.9},{"k":4.9,"t":0.808,"x":4.9},{"k":4.9,"t":0.816,"x":4.878},{"k":4.9,"t":0.823,"x":4.864},{"k":4.9,"t":0.829,"x":4.9},{"k":4.9,"t":0.840,"x":5.01},{"k":4.9,"t":0.851,"x":4.9},{"k":4.9,"t":0.857,"x":4.864},{"k":4.9,"t":0.864,"x":4.878},{"k":4.9,"t":0.872,"x":4.9},{"k":4.9,"t":1,"x":4.9},
{"k":5.0,"t":0.375,"x":5.0},{"k":5.0,"t":0.532,"x":5.0},{"k":5.0,"t":0.540,"x":4.978},{"k":5.0,"t":0.547,"x":4.964},{"k":5.0,"t":0.553,"x":5.0},{"k":5.0,"t":0.564,"x":5.11},{"k":5.0,"t":0.575,"x":5.0},{"k":5.0,"t":0.581,"x":4.964},{"k":5.0,"t":0.588,"x":4.978},{"k":5.0,"t":0.596,"x":5.0},{"k":5.0,"t":0.808,"x":5.0},{"k":5.0,"t":0.816,"x":4.978},{"k":5.0,"t":0.823,"x":4.964},{"k":5.0,"t":0.829,"x":5.0},{"k":5.0,"t":0.840,"x":5.11},{"k":5.0,"t":0.851,"x":5.0},{"k":5.0,"t":0.857,"x":4.964},{"k":5.0,"t":0.864,"x":4.978},{"k":5.0,"t":0.872,"x":5.0},{"k":5.0,"t":1,"x":5.0},
{"k":5.1,"t":0.375,"x":5.1},{"k":5.1,"t":0.534,"x":5.1},{"k":5.1,"t":0.542,"x":5.078},{"k":5.1,"t":0.549,"x":5.064},{"k":5.1,"t":0.555,"x":5.1},{"k":5.1,"t":0.566,"x":5.21},{"k":5.1,"t":0.577,"x":5.1},{"k":5.1,"t":0.583,"x":5.064},{"k":5.1,"t":0.590,"x":5.078},{"k":5.1,"t":0.598,"x":5.1},{"k":5.1,"t":0.808,"x":5.1},{"k":5.1,"t":0.816,"x":5.078},{"k":5.1,"t":0.823,"x":5.064},{"k":5.1,"t":0.829,"x":5.1},{"k":5.1,"t":0.840,"x":5.21},{"k":5.1,"t":0.851,"x":5.1},{"k":5.1,"t":0.857,"x":5.064},{"k":5.1,"t":0.864,"x":5.078},{"k":5.1,"t":0.872,"x":5.1},{"k":5.1,"t":1,"x":5.1},
{"k":5.2,"t":0.375,"x":5.2},{"k":5.2,"t":0.536,"x":5.2},{"k":5.2,"t":0.544,"x":5.178},{"k":5.2,"t":0.551,"x":5.164},{"k":5.2,"t":0.557,"x":5.2},{"k":5.2,"t":0.568,"x":5.31},{"k":5.2,"t":0.579,"x":5.2},{"k":5.2,"t":0.585,"x":5.164},{"k":5.2,"t":0.592,"x":5.178},{"k":5.2,"t":0.600,"x":5.2},{"k":5.2,"t":0.807,"x":5.2},{"k":5.2,"t":0.815,"x":5.178},{"k":5.2,"t":0.822,"x":5.164},{"k":5.2,"t":0.828,"x":5.2},{"k":5.2,"t":0.839,"x":5.31},{"k":5.2,"t":0.850,"x":5.2},{"k":5.2,"t":0.856,"x":5.164},{"k":5.2,"t":0.863,"x":5.178},{"k":5.2,"t":0.871,"x":5.2},{"k":5.2,"t":1,"x":5.2},
{"k":5.3,"t":0.375,"x":5.3},{"k":5.3,"t":0.539,"x":5.3},{"k":5.3,"t":0.547,"x":5.278},{"k":5.3,"t":0.554,"x":5.264},{"k":5.3,"t":0.560,"x":5.3},{"k":5.3,"t":0.571,"x":5.41},{"k":5.3,"t":0.582,"x":5.3},{"k":5.3,"t":0.588,"x":5.264},{"k":5.3,"t":0.595,"x":5.278},{"k":5.3,"t":0.603,"x":5.3},{"k":5.3,"t":0.807,"x":5.3},{"k":5.3,"t":0.815,"x":5.278},{"k":5.3,"t":0.822,"x":5.264},{"k":5.3,"t":0.828,"x":5.3},{"k":5.3,"t":0.839,"x":5.41},{"k":5.3,"t":0.850,"x":5.3},{"k":5.3,"t":0.856,"x":5.264},{"k":5.3,"t":0.863,"x":5.278},{"k":5.3,"t":0.871,"x":5.3},{"k":5.3,"t":1,"x":5.3},
{"k":5.4,"t":0.375,"x":5.4},{"k":5.4,"t":0.541,"x":5.4},{"k":5.4,"t":0.549,"x":5.378},{"k":5.4,"t":0.556,"x":5.364},{"k":5.4,"t":0.562,"x":5.4},{"k":5.4,"t":0.573,"x":5.51},{"k":5.4,"t":0.584,"x":5.4},{"k":5.4,"t":0.590,"x":5.364},{"k":5.4,"t":0.597,"x":5.378},{"k":5.4,"t":0.605,"x":5.4},{"k":5.4,"t":0.807,"x":5.4},{"k":5.4,"t":0.815,"x":5.378},{"k":5.4,"t":0.822,"x":5.364},{"k":5.4,"t":0.828,"x":5.4},{"k":5.4,"t":0.839,"x":5.51},{"k":5.4,"t":0.850,"x":5.4},{"k":5.4,"t":0.856,"x":5.364},{"k":5.4,"t":0.863,"x":5.378},{"k":5.4,"t":0.871,"x":5.4},{"k":5.4,"t":1,"x":5.4},
{"k":5.5,"t":0.375,"x":5.5},{"k":5.5,"t":0.544,"x":5.5},{"k":5.5,"t":0.552,"x":5.478},{"k":5.5,"t":0.559,"x":5.464},{"k":5.5,"t":0.565,"x":5.5},{"k":5.5,"t":0.576,"x":5.61},{"k":5.5,"t":0.587,"x":5.5},{"k":5.5,"t":0.593,"x":5.464},{"k":5.5,"t":0.600,"x":5.478},{"k":5.5,"t":0.608,"x":5.5},{"k":5.5,"t":0.807,"x":5.5},{"k":5.5,"t":0.815,"x":5.478},{"k":5.5,"t":0.822,"x":5.464},{"k":5.5,"t":0.828,"x":5.5},{"k":5.5,"t":0.839,"x":5.61},{"k":5.5,"t":0.850,"x":5.5},{"k":5.5,"t":0.856,"x":5.464},{"k":5.5,"t":0.863,"x":5.478},{"k":5.5,"t":0.871,"x":5.5},{"k":5.5,"t":1,"x":5.5},
{"k":5.6,"t":0.375,"x":5.6},{"k":5.6,"t":0.547,"x":5.6},{"k":5.6,"t":0.555,"x":5.578},{"k":5.6,"t":0.562,"x":5.564},{"k":5.6,"t":0.568,"x":5.6},{"k":5.6,"t":0.579,"x":5.71},{"k":5.6,"t":0.590,"x":5.6},{"k":5.6,"t":0.596,"x":5.564},{"k":5.6,"t":0.603,"x":5.578},{"k":5.6,"t":0.611,"x":5.6},{"k":5.6,"t":0.806,"x":5.6},{"k":5.6,"t":0.814,"x":5.578},{"k":5.6,"t":0.821,"x":5.564},{"k":5.6,"t":0.827,"x":5.6},{"k":5.6,"t":0.838,"x":5.71},{"k":5.6,"t":0.849,"x":5.6},{"k":5.6,"t":0.855,"x":5.564},{"k":5.6,"t":0.862,"x":5.578},{"k":5.6,"t":0.870,"x":5.6},{"k":5.6,"t":1,"x":5.6},
{"k":5.7,"t":0.375,"x":5.7},{"k":5.7,"t":0.550,"x":5.7},{"k":5.7,"t":0.558,"x":5.678},{"k":5.7,"t":0.565,"x":5.664},{"k":5.7,"t":0.571,"x":5.7},{"k":5.7,"t":0.582,"x":5.81},{"k":5.7,"t":0.593,"x":5.7},{"k":5.7,"t":0.599,"x":5.664},{"k":5.7,"t":0.606,"x":5.678},{"k":5.7,"t":0.614,"x":5.7},{"k":5.7,"t":0.806,"x":5.7},{"k":5.7,"t":0.814,"x":5.678},{"k":5.7,"t":0.821,"x":5.664},{"k":5.7,"t":0.827,"x":5.7},{"k":5.7,"t":0.838,"x":5.81},{"k":5.7,"t":0.849,"x":5.7},{"k":5.7,"t":0.855,"x":5.664},{"k":5.7,"t":0.862,"x":5.678},{"k":5.7,"t":0.870,"x":5.7},{"k":5.7,"t":1,"x":5.7},
{"k":5.8,"t":0.375,"x":5.8},{"k":5.8,"t":0.553,"x":5.8},{"k":5.8,"t":0.561,"x":5.778},{"k":5.8,"t":0.568,"x":5.764},{"k":5.8,"t":0.574,"x":5.8},{"k":5.8,"t":0.585,"x":5.91},{"k":5.8,"t":0.596,"x":5.8},{"k":5.8,"t":0.602,"x":5.764},{"k":5.8,"t":0.609,"x":5.778},{"k":5.8,"t":0.617,"x":5.8},{"k":5.8,"t":0.806,"x":5.8},{"k":5.8,"t":0.814,"x":5.778},{"k":5.8,"t":0.821,"x":5.764},{"k":5.8,"t":0.827,"x":5.8},{"k":5.8,"t":0.838,"x":5.91},{"k":5.8,"t":0.849,"x":5.8},{"k":5.8,"t":0.855,"x":5.764},{"k":5.8,"t":0.862,"x":5.778},{"k":5.8,"t":0.870,"x":5.8},{"k":5.8,"t":1,"x":5.8},
{"k":5.9,"t":0.375,"x":5.9},{"k":5.9,"t":0.556,"x":5.9},{"k":5.9,"t":0.564,"x":5.878},{"k":5.9,"t":0.571,"x":5.864},{"k":5.9,"t":0.577,"x":5.9},{"k":5.9,"t":0.588,"x":6.01},{"k":5.9,"t":0.599,"x":5.9},{"k":5.9,"t":0.605,"x":5.864},{"k":5.9,"t":0.612,"x":5.878},{"k":5.9,"t":0.620,"x":5.9},{"k":5.9,"t":0.806,"x":5.9},{"k":5.9,"t":0.814,"x":5.878},{"k":5.9,"t":0.821,"x":5.864},{"k":5.9,"t":0.827,"x":5.9},{"k":5.9,"t":0.838,"x":6.01},{"k":5.9,"t":0.849,"x":5.9},{"k":5.9,"t":0.855,"x":5.864},{"k":5.9,"t":0.862,"x":5.878},{"k":5.9,"t":0.870,"x":5.9},{"k":5.9,"t":1,"x":5.9},
{"k":6.0,"t":0.375,"x":6.0},{"k":6.0,"t":0.560,"x":6.0},{"k":6.0,"t":0.568,"x":5.978},{"k":6.0,"t":0.575,"x":5.964},{"k":6.0,"t":0.581,"x":6.0},{"k":6.0,"t":0.592,"x":6.11},{"k":6.0,"t":0.603,"x":6.0},{"k":6.0,"t":0.609,"x":5.964},{"k":6.0,"t":0.616,"x":5.978},{"k":6.0,"t":0.624,"x":6.0},{"k":6.0,"t":0.806,"x":6.0},{"k":6.0,"t":0.814,"x":5.978},{"k":6.0,"t":0.821,"x":5.964},{"k":6.0,"t":0.827,"x":6.0},{"k":6.0,"t":0.838,"x":6.11},{"k":6.0,"t":0.849,"x":6.0},{"k":6.0,"t":0.855,"x":5.964},{"k":6.0,"t":0.862,"x":5.978},{"k":6.0,"t":0.870,"x":6.0},{"k":6.0,"t":1,"x":6.0},
{"k":6.1,"t":0.375,"x":6.1},{"k":6.1,"t":0.563,"x":6.1},{"k":6.1,"t":0.571,"x":6.078},{"k":6.1,"t":0.578,"x":6.064},{"k":6.1,"t":0.584,"x":6.1},{"k":6.1,"t":0.595,"x":6.21},{"k":6.1,"t":0.606,"x":6.1},{"k":6.1,"t":0.612,"x":6.064},{"k":6.1,"t":0.619,"x":6.078},{"k":6.1,"t":0.627,"x":6.1},{"k":6.1,"t":0.805,"x":6.1},{"k":6.1,"t":0.813,"x":6.078},{"k":6.1,"t":0.820,"x":6.064},{"k":6.1,"t":0.826,"x":6.1},{"k":6.1,"t":0.837,"x":6.21},{"k":6.1,"t":0.848,"x":6.1},{"k":6.1,"t":0.854,"x":6.064},{"k":6.1,"t":0.861,"x":6.078},{"k":6.1,"t":0.869,"x":6.1},{"k":6.1,"t":1,"x":6.1},
{"k":6.2,"t":0.375,"x":6.2},{"k":6.2,"t":0.805,"x":6.2},{"k":6.2,"t":0.813,"x":6.178},{"k":6.2,"t":0.820,"x":6.164},{"k":6.2,"t":0.826,"x":6.2},{"k":6.2,"t":0.837,"x":6.31},{"k":6.2,"t":0.848,"x":6.2},{"k":6.2,"t":0.854,"x":6.164},{"k":6.2,"t":0.861,"x":6.178},{"k":6.2,"t":0.869,"x":6.2},{"k":6.2,"t":1,"x":6.2},
{"k":6.3,"t":0.375,"x":6.3},{"k":6.3,"t":0.805,"x":6.3},{"k":6.3,"t":0.813,"x":6.278},{"k":6.3,"t":0.820,"x":6.264},{"k":6.3,"t":0.826,"x":6.3},{"k":6.3,"t":0.837,"x":6.41},{"k":6.3,"t":0.848,"x":6.3},{"k":6.3,"t":0.854,"x":6.264},{"k":6.3,"t":0.861,"x":6.278},{"k":6.3,"t":0.869,"x":6.3},{"k":6.3,"t":1,"x":6.3},
{"k":6.4,"t":0.375,"x":6.4},{"k":6.4,"t":0.805,"x":6.4},{"k":6.4,"t":0.813,"x":6.378},{"k":6.4,"t":0.820,"x":6.364},{"k":6.4,"t":0.826,"x":6.4},{"k":6.4,"t":0.837,"x":6.51},{"k":6.4,"t":0.848,"x":6.4},{"k":6.4,"t":0.854,"x":6.364},{"k":6.4,"t":0.861,"x":6.378},{"k":6.4,"t":0.869,"x":6.4},{"k":6.4,"t":1,"x":6.4},
{"k":6.5,"t":0.375,"x":6.5},{"k":6.5,"t":0.804,"x":6.5},{"k":6.5,"t":0.812,"x":6.478},{"k":6.5,"t":0.819,"x":6.464},{"k":6.5,"t":0.825,"x":6.5},{"k":6.5,"t":0.836,"x":6.61},{"k":6.5,"t":0.847,"x":6.5},{"k":6.5,"t":0.853,"x":6.464},{"k":6.5,"t":0.860,"x":6.478},{"k":6.5,"t":0.868,"x":6.5},{"k":6.5,"t":1,"x":6.5},
{"k":6.6,"t":0.375,"x":6.6},{"k":6.6,"t":0.804,"x":6.6},{"k":6.6,"t":0.812,"x":6.578},{"k":6.6,"t":0.819,"x":6.564},{"k":6.6,"t":0.825,"x":6.6},{"k":6.6,"t":0.836,"x":6.71},{"k":6.6,"t":0.847,"x":6.6},{"k":6.6,"t":0.853,"x":6.564},{"k":6.6,"t":0.860,"x":6.578},{"k":6.6,"t":0.868,"x":6.6},{"k":6.6,"t":1,"x":6.6},
{"k":6.7,"t":0.375,"x":6.7},{"k":6.7,"t":0.804,"x":6.7},{"k":6.7,"t":0.812,"x":6.678},{"k":6.7,"t":0.819,"x":6.664},{"k":6.7,"t":0.825,"x":6.7},{"k":6.7,"t":0.836,"x":6.81},{"k":6.7,"t":0.847,"x":6.7},{"k":6.7,"t":0.853,"x":6.664},{"k":6.7,"t":0.860,"x":6.678},{"k":6.7,"t":0.868,"x":6.7},{"k":6.7,"t":1,"x":6.7},
{"k":6.8,"t":0.375,"x":6.8},{"k":6.8,"t":0.804,"x":6.8},{"k":6.8,"t":0.812,"x":6.778},{"k":6.8,"t":0.819,"x":6.764},{"k":6.8,"t":0.825,"x":6.8},{"k":6.8,"t":0.836,"x":6.91},{"k":6.8,"t":0.847,"x":6.8},{"k":6.8,"t":0.853,"x":6.764},{"k":6.8,"t":0.860,"x":6.778},{"k":6.8,"t":0.868,"x":6.8},{"k":6.8,"t":1,"x":6.8},
{"k":6.9,"t":0.375,"x":6.9},{"k":6.9,"t":0.803,"x":6.9},{"k":6.9,"t":0.811,"x":6.878},{"k":6.9,"t":0.818,"x":6.864},{"k":6.9,"t":0.824,"x":6.9},{"k":6.9,"t":0.835,"x":7.01},{"k":6.9,"t":0.846,"x":6.9},{"k":6.9,"t":0.852,"x":6.864},{"k":6.9,"t":0.859,"x":6.878},{"k":6.9,"t":0.867,"x":6.9},{"k":6.9,"t":1,"x":6.9},
{"k":7.0,"t":0.375,"x":7.0},{"k":7.0,"t":0.803,"x":7.0},{"k":7.0,"t":0.811,"x":6.978},{"k":7.0,"t":0.818,"x":6.964},{"k":7.0,"t":0.824,"x":7.0},{"k":7.0,"t":0.835,"x":7.11},{"k":7.0,"t":0.846,"x":7.0},{"k":7.0,"t":0.852,"x":6.964},{"k":7.0,"t":0.859,"x":6.978},{"k":7.0,"t":0.867,"x":7.0},{"k":7.0,"t":1,"x":7.0},
{"k":7.1,"t":0.375,"x":7.1},{"k":7.1,"t":0.803,"x":7.1},{"k":7.1,"t":0.811,"x":7.078},{"k":7.1,"t":0.818,"x":7.064},{"k":7.1,"t":0.824,"x":7.1},{"k":7.1,"t":0.835,"x":7.21},{"k":7.1,"t":0.846,"x":7.1},{"k":7.1,"t":0.852,"x":7.064},{"k":7.1,"t":0.859,"x":7.078},{"k":7.1,"t":0.867,"x":7.1},{"k":7.1,"t":1,"x":7.1},
{"k":7.2,"t":0.375,"x":7.2},{"k":7.2,"t":1,"x":7.2},
{"k":7.3,"t":0.375,"x":7.3},{"k":7.3,"t":1,"x":7.3},
{"k":7.4,"t":0.375,"x":7.4},{"k":7.4,"t":1,"x":7.4},
{"k":7.5,"t":0.375,"x":7.5},{"k":7.5,"t":1,"x":7.5},
{"k":7.6,"t":0.375,"x":7.6},{"k":7.6,"t":1,"x":7.6},
{"k":7.7,"t":0.375,"x":7.7},{"k":7.7,"t":1,"x":7.7},
{"k":7.8,"t":0.375,"x":7.8},{"k":7.8,"t":1,"x":7.8},
{"k":7.9,"t":0.375,"x":7.9},{"k":7.9,"t":1,"x":7.9},
{"k":8.0,"t":0.375,"x":8.0},{"k":8.0,"t":1,"x":8.0}
]},
"encoding":{
"y":{"field":"t","type":"quantitative","scale":{"domain":[0.375,1],"reverse":true,"zero":false,"nice":false},
"axis":{"values":[0.4,0.5,0.6,0.7,0.8,0.9,1.0],"format":".1f","grid":true,"gridColor":"#c9c99a","gridWidth":1.5,"ticks":false,"domain":false,"labelFontSize":18,"labelPadding":10,"labelColor":"#000","title":"Time (s)","titleFontSize":28,"titleFontWeight":"normal","titleColor":"#000","titleAngle":270,"titleX":-60,"titleY":229,"titleAlign":"center","titleBaseline":"middle"}},
"x":{"field":"x","type":"quantitative","scale":{"domain":[0,8],"nice":false,"zero":false},
"axis":{"values":[0,1,2,3,4,5,6,7,8],"format":"d","grid":false,"ticks":false,"domain":false,"labelFontSize":18,"labelPadding":4,"labelOffset":-4,"labelFlush":false,"labelColor":"#000","title":"Distance (km)","titleFontSize":28,"titleFontWeight":"normal","titleColor":"#000","titleY":50,"titleBaseline":"alphabetic"}},
"detail":{"field":"k","type":"nominal"},
"order":{"field":"t","type":"quantitative"}
},
"layer":[
{"transform":[{"filter":"datum.x >= datum.k"}],
"mark":{"type":"line","color":"#000","fill":"#000","strokeWidth":1}},
{"mark":{"type":"line","color":"#000","strokeWidth":2.5,"interpolate":"cardinal","tension":0.5}}
]
}
